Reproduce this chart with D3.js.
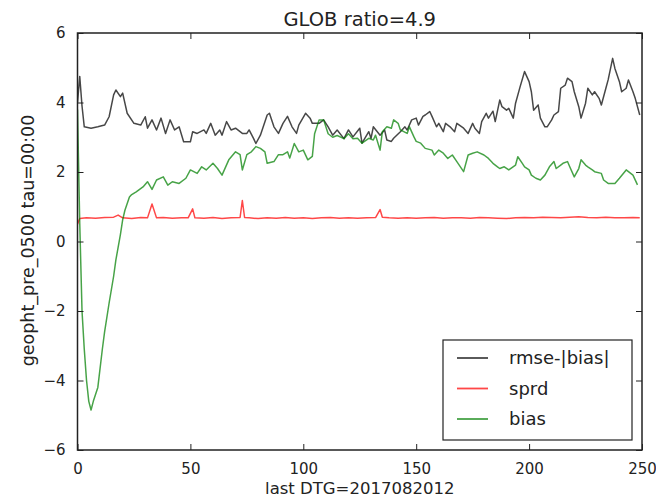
<!DOCTYPE html>
<html><head><meta charset="utf-8">
<script src="https://cdn.jsdelivr.net/npm/d3@7"></script>
<style>body{margin:0;background:#fff;overflow:hidden}svg{display:block}text{font-family:"DejaVu Sans",sans-serif;fill:#222}</style>
</head><body><div id="chart"></div>
<script>
const title = "GLOB ratio=4.9";
const xLabel = "last DTG=2017082012";
const yLabel = "geopht_pre_0500 tau=00:00";
const xTicks = [0, 50, 100, 150, 200, 250];
const yTicks = [-6, -4, -2, 0, 2, 4, 6];
const seriesNames = ["rmse-|bias|", "sprd", "bias"];
const seriesColors = ["#000000", "#ff0000", "#008000"];

const rmseX = [0,1,2,3,6,9,12,14,16,17,19,20,22,25,28,30,31,33,35,37,39,41,43,45,47,50,51,53,56,57,59,61,63,64,66,68,70,73,75,76,78,79,81,84,85,87,89,91,93,95,97,98,101,103,104,107,109,111,113,115,118,120,122,125,126,129,130,131,134,136,137,139,140,143,145,146,148,150,151,153,154,156,157,159,160,162,163,165,167,168,171,173,175,176,178,179,181,182,184,185,187,188,190,191,193,194,196,198,200,201,202,204,205,207,208,210,211,213,214,216,217,219,220,222,223,225,226,228,229,231,232,234,235,237,238,240,241,243,244,246,247,249];
const rmseY = [4.0,4.75,3.9,3.3,3.26,3.30,3.35,3.59,4.22,4.36,4.17,4.27,3.69,3.40,3.35,3.59,3.26,3.5,3.21,3.55,3.11,3.5,3.21,3.30,2.87,2.87,3.16,3.11,3.21,3.11,3.40,3.06,3.21,3.06,3.45,3.21,3.26,3.11,3.11,3.21,2.96,2.82,3.06,3.64,3.69,3.3,3.11,3.4,3.6,3.3,3.11,3.35,3.69,3.55,3.4,3.4,3.5,3.3,3.06,3.21,2.96,3.21,3.01,3.26,2.83,3.16,2.97,3.3,3.06,3.21,2.92,2.88,2.97,3.16,3.3,3.21,3.5,3.55,3.35,3.6,3.64,3.74,3.6,3.3,3.4,3.16,3.4,3.3,3.16,3.4,3.26,3.11,3.4,3.26,3.11,3.45,3.69,3.55,3.75,3.45,4.07,3.88,3.78,3.83,3.55,3.98,4.45,4.89,4.6,4.31,3.78,3.93,3.55,3.30,3.30,3.5,3.64,3.74,4.41,4.5,4.70,4.6,4.31,3.88,3.55,3.98,4.41,4.22,4.31,4.12,3.93,4.41,4.65,5.27,4.98,4.6,4.31,4.41,4.65,4.31,4.12,3.64];

const sprdX = [0,1,4,8,12,16,18,20,24,28,31,33,35,38,42,46,49,51,52,56,60,64,68,72,73,74,76,80,84,88,92,96,100,104,108,112,116,120,124,128,132,134,135,138,142,146,150,154,158,162,166,170,174,178,182,186,190,194,198,202,206,210,214,218,222,226,230,234,238,242,246,249];
const sprdY = [0.5,0.66,0.68,0.67,0.69,0.7,0.76,0.68,0.66,0.69,0.68,1.08,0.68,0.69,0.67,0.68,0.68,0.94,0.68,0.67,0.69,0.66,0.68,0.69,1.18,0.69,0.68,0.66,0.68,0.67,0.69,0.67,0.68,0.66,0.68,0.69,0.67,0.68,0.67,0.68,0.69,0.92,0.70,0.68,0.67,0.68,0.67,0.68,0.69,0.67,0.68,0.68,0.67,0.69,0.68,0.67,0.66,0.68,0.69,0.68,0.70,0.69,0.68,0.70,0.71,0.69,0.68,0.70,0.68,0.68,0.69,0.68];

const biasX = [0,1,2,3,4,5,6,7,9,11,12,14,16,17,19,20,21,23,24,26,29,31,33,35,38,40,42,45,48,50,53,55,57,60,62,64,67,70,72,73,75,77,79,81,83,84,87,89,91,93,94,96,98,100,102,104,105,107,109,111,113,115,118,120,122,124,126,129,131,132,134,135,137,139,140,142,143,146,147,149,150,152,154,157,158,160,162,164,166,168,171,173,175,177,180,182,184,186,187,189,191,194,195,197,198,200,201,203,205,207,209,211,212,214,215,217,218,220,222,223,225,226,228,229,232,233,235,236,238,240,243,245,246,248];
const biasY = [3.8,0.5,-2.0,-3.1,-4.0,-4.6,-4.85,-4.6,-4.2,-3.1,-2.6,-1.77,-1.0,-0.53,0.2,0.62,0.9,1.28,1.35,1.43,1.57,1.72,1.5,1.77,1.86,1.62,1.72,1.67,1.82,2.06,1.96,2.15,2.06,2.25,2.1,1.91,2.35,2.58,2.5,2.06,2.5,2.58,2.73,2.68,2.58,2.25,2.3,2.5,2.5,2.58,2.4,2.82,2.58,2.63,2.35,2.45,3.1,3.5,3.5,3.1,3.0,3.05,2.96,3.1,2.96,2.97,2.83,2.97,2.92,3.06,2.63,3.16,3.30,3.26,3.5,3.4,3.21,3.11,3.3,3.01,2.88,2.83,2.68,2.63,2.49,2.63,2.54,2.39,2.49,2.3,2.01,2.49,2.54,2.58,2.49,2.39,2.25,2.15,2.1,2.15,2.06,2.2,2.44,2.25,2.15,2.06,1.91,1.82,1.77,1.91,2.15,2.30,2.1,2.2,2.25,2.3,2.15,1.86,2.1,2.35,2.2,2.15,2.06,2.01,1.96,1.77,1.67,1.67,1.67,1.82,2.06,1.96,1.91,1.63];

const W = 656, H = 499;
const m = {left: 77.5, right: 14, top: 33, bottom: 49};
const svg = d3.select("#chart").append("svg").attr("width", W).attr("height", H);
const x = d3.scaleLinear().domain([0, 250]).range([m.left, W - m.right]);
const y = d3.scaleLinear().domain([-6, 6]).range([H - m.bottom, m.top]);

const series = [
  {name: seriesNames[0], color: seriesColors[0], xs: rmseX, ys: rmseY},
  {name: seriesNames[1], color: seriesColors[1], xs: sprdX, ys: sprdY},
  {name: seriesNames[2], color: seriesColors[2], xs: biasX, ys: biasY}
];
const line = d3.line().x(d => x(d[0])).y(d => y(d[1]));
svg.append("clipPath").attr("id","c").append("rect")
  .attr("x", m.left).attr("y", m.top).attr("width", W-m.right-m.left).attr("height", H-m.bottom-m.top);
const g = svg.append("g").attr("clip-path","url(#c)");
series.forEach(s => {
  g.append("path").datum(d3.zip(s.xs, s.ys)).attr("d", line)
    .attr("fill","none").attr("stroke", s.color).attr("stroke-opacity", 0.72)
    .attr("stroke-width", 1.5).attr("stroke-linejoin","round");
});

// axes (ticks inward, mirrored)
const tl = 6;
const fs = 15;
const axB = svg.append("g").attr("transform", `translate(0,${H-m.bottom})`)
  .call(d3.axisBottom(x).tickValues(xTicks).tickSizeInner(-tl).tickSizeOuter(0).tickPadding(13).tickFormat(d3.format("d")));
const axT = svg.append("g").attr("transform", `translate(0,${m.top})`)
  .call(d3.axisTop(x).tickValues(xTicks).tickSizeInner(-tl).tickSizeOuter(0).tickFormat(""));
const axL = svg.append("g").attr("transform", `translate(${m.left},0)`)
  .call(d3.axisLeft(y).tickValues(yTicks).tickSizeInner(-tl).tickSizeOuter(0).tickPadding(12).tickFormat(d => d < 0 ? "\u2212" + Math.abs(d) : d));
const axR = svg.append("g").attr("transform", `translate(${W-m.right},0)`)
  .call(d3.axisRight(y).tickValues(yTicks).tickSizeInner(-tl).tickSizeOuter(0).tickFormat(""));
[axB, axT, axL, axR].forEach(a => {
  a.select(".domain").remove();
  a.selectAll(".tick line").attr("stroke", "#222").attr("stroke-width", 1);
  a.selectAll("text").attr("font-size", fs).attr("font-family", '"DejaVu Sans",sans-serif').attr("fill","#222");
});
svg.append("rect").attr("x", m.left).attr("y", m.top).attr("width", W-m.right-m.left).attr("height", H-m.bottom-m.top)
  .attr("fill","none").attr("stroke","#222").attr("stroke-width",1.5);

svg.append("text").attr("x", (m.left + W - m.right)/2).attr("y", 26).attr("text-anchor","middle").attr("font-size", 19.5).text(title);
svg.append("text").attr("x", (m.left + W - m.right)/2).attr("y", 494).attr("text-anchor","middle").attr("font-size", 16.5).text(xLabel);
svg.append("text").attr("transform", `translate(34,${(m.top + H - m.bottom)/2 - 1}) rotate(-90)`).attr("text-anchor","middle").attr("font-size", 17.5).text(yLabel);

// legend
const lg = svg.append("g");
lg.append("rect").attr("x", 443).attr("y", 340).attr("width", 189).attr("height", 100)
  .attr("fill","#fff").attr("stroke","#222").attr("stroke-width",1.2);
series.forEach((s, i) => {
  const yy = 358 + i * 30.5;
  lg.append("line").attr("x1", 457).attr("x2", 488).attr("y1", yy).attr("y2", yy)
    .attr("stroke", s.color).attr("stroke-opacity", 0.72).attr("stroke-width", 1.8);
  lg.append("text").attr("x", 509).attr("y", yy + 6).attr("font-size", 18).text(s.name);
});
</script></body></html>
